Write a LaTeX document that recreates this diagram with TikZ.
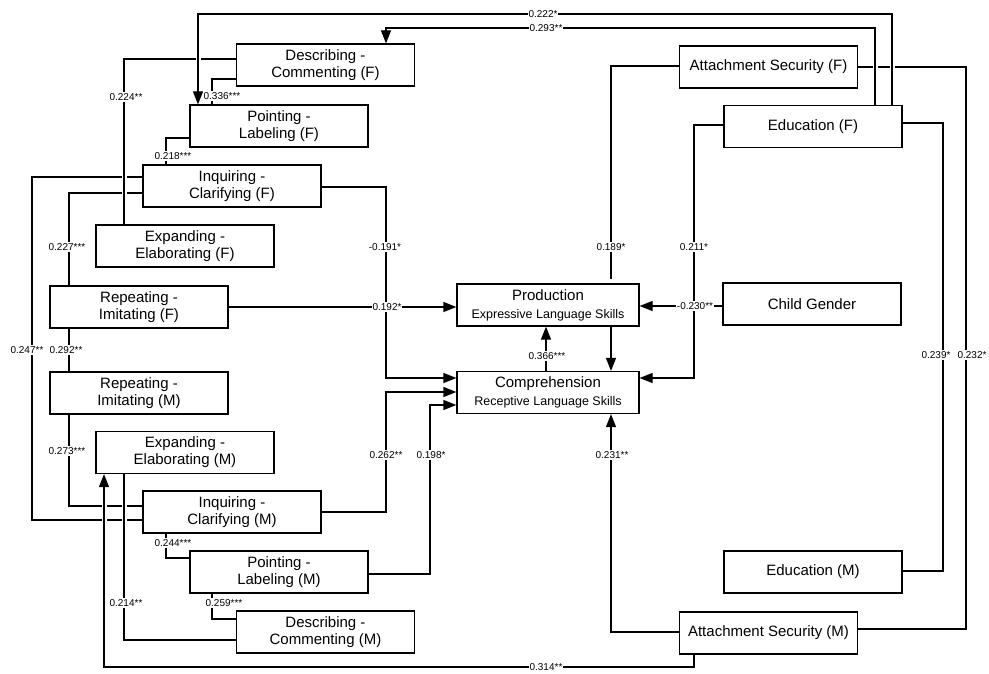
\documentclass[tikz,border=0pt]{standalone}
\usepackage{fontspec}
\setmainfont{Liberation Sans}
\usetikzlibrary{arrows.meta,calc}
\begin{document}
\begin{tikzpicture}[x=1pt,y=-1pt,
  box/.style={draw, line width=1.2pt, minimum width=178pt, minimum height=42pt, inner sep=0pt, align=center, font=\fontsize{15}{17}\selectfont},
  cbox/.style={box, minimum width=182pt},
  conn/.style={line width=1.2pt},
  arr/.style={conn, -{Triangle[length=13pt,width=10pt]}},
  gapped/.style={preaction={draw=white, line width=5pt, arrows=-, shorten <=3pt, shorten >=3pt}},
  lbl/.style={fill=white, inner sep=1pt, font=\fontsize{10}{10}\selectfont}]
\useasboundingbox (0,0) rectangle (989,674);

% boxes
\node[box] (dcF) at (325.5,65) {Describing -\\Commenting (F)};
\node[box] (plF) at (279,126) {Pointing -\\Labeling (F)};
\node[box] (icF) at (232,186) {Inquiring -\\Clarifying (F)};
\node[box] (eeF) at (185,246) {Expanding -\\Elaborating (F)};
\node[box] (riF) at (139,307) {Repeating -\\Imitating (F)};
\node[box] (riM) at (139,393) {Repeating -\\Imitating (M)};
\node[box] (eeM) at (185,452.5) {Expanding -\\Elaborating (M)};
\node[box] (icM) at (232,512) {Inquiring -\\Clarifying (M)};
\node[box] (plM) at (279,572) {Pointing -\\Labeling (M)};
\node[box] (dcM) at (325.5,632) {Describing -\\Commenting (M)};
\node[box] (asF) at (768.5,67) {Attachment Security (F)};
\node[box] (edF) at (813,126.5) {Education (F)};
\node[box] (cg) at (812,304) {Child Gender};
\node[box] (edM) at (813,572) {Education (M)};
\node[box] (asM) at (768.5,633) {Attachment Security (M)};
\node[cbox] (prod) at (548,305) {Production\\[1pt]{\fontsize{12.5}{14}\selectfont Expressive Language Skills}};
\node[cbox] (comp) at (548,392.5) {Comprehension\\[1pt]{\fontsize{12.5}{14}\selectfont Receptive Language Skills}};

% left-side correlations
\draw[conn] (icF.west |- 0,177) -- (32,177) -- (32,520) -- (icM.west |- 0,520);
\draw[conn] (icF.west |- 0,193) -- (69,193) -- (riF.north -| 69,0);
\draw[conn] (riF.south -| 69,0) -- (riM.north -| 69,0);
\draw[conn] (riM.south -| 69,0) -- (69,506) -- (icM.west |- 0,506);
\draw[conn] (plF.west |- 0,138) -- (166,138) -- (icF.north -| 166,0);
\draw[conn] (dcF.west |- 0,79) -- (212,79) -- (plF.north -| 212,0);
\draw[conn] (icM.south -| 166,0) -- (166,558) -- (plM.west |- 0,558);
\draw[conn] (plM.south -| 212,0) -- (212,619) -- (dcM.west |- 0,619);
\draw[conn,gapped] (dcF.west |- 0,59) -- (124,59) -- (eeF.north -| 124,0);
\draw[conn,gapped] (eeM.south -| 124,0) -- (124,640) -- (dcM.west |- 0,640);

% right-side correlations
\draw[conn] (asF.east) -- (966,67) -- (966,629) -- (asM.east |- 0,629);
\draw[conn] (edF.east |- 0,123) -- (943,123) -- (943,571) -- (edM.east |- 0,571);

% long paths with bridges
\draw[arr,gapped] (asM.south -| 694,0) -- (694,667) -- (104,667) -- (eeM.south -| 104,0);
\draw[arr,gapped] (edF.north -| 892,0) -- (892,14) -- (198,14) -- (plF.north -| 198,0);
\draw[arr,gapped] (edF.north -| 875,0) -- (875,28) -- (386,28) -- (dcF.north -| 386,0);

% paths to outcomes
\draw[conn] (asF.west |- 0,66) -- (611,66) -- ($(prod.north -| 611,0)+(0,-4)$);
\draw[arr] (prod.south -| 611,0) -- (comp.north -| 611,0);
\draw[arr] (comp.north -| 546,0) -- (prod.south -| 546,0);
\draw[arr] (edF.west |- 0,125) -- (694,125) -- (694,378) -- (comp.east |- 0,378);
\draw[arr] (cg.west |- 0,306) -- (prod.east |- 0,306);
\draw[arr] (asM.west |- 0,632) -- (611,632) -- (comp.south -| 611,0);
\draw[arr] (icF.east |- 0,187) -- (386,187) -- (386,378) -- (comp.west |- 0,378);
\draw[arr] (riF.east |- 0,307) -- (prod.west |- 0,307);
\draw[arr] (icM.east |- 0,512) -- (386,512) -- (386,392) -- (comp.west |- 0,392);
\draw[arr] (plM.east |- 0,574) -- (430,574) -- (430,405) -- (comp.west |- 0,405);

% labels
\node[lbl] (l1) at (543,14) {0.222*};
\node[lbl] (l2) at (546,28) {0.293**};
\node[lbl] (l3) at (222,96) {0.336***};
\node[lbl] (l4) at (126,97) {0.224**};
\node[lbl] (l5) at (173,156) {0.218***};
\node[lbl] (l6) at (67,247) {0.227***};
\node[lbl] (l7) at (385,247) {-0.191*};
\node[lbl] (l8) at (611,247) {0.189*};
\node[lbl] (l9) at (694,247) {0.211*};
\node[lbl] (l10) at (387,307) {0.192*};
\node[lbl] (l11) at (695,306) {-0.230**};
\node[lbl] (l12) at (27,350) {0.247**};
\node[lbl] (l13) at (66,350) {0.292**};
\node[lbl] (l14) at (547,356) {0.366***};
\node[lbl] (l15) at (936,355) {0.239*};
\node[lbl] (l16) at (972,355) {0.232*};
\node[lbl] (l17) at (67,451) {0.273***};
\node[lbl] (l18) at (386,455) {0.262**};
\node[lbl] (l19) at (431,455) {0.198*};
\node[lbl] (l20) at (612,455) {0.231**};
\node[lbl] (l21) at (173,543) {0.244***};
\node[lbl] (l22) at (224,603) {0.259***};
\node[lbl] (l23) at (126,603) {0.214**};
\node[lbl] (l24) at (546,667) {0.314**};
\end{tikzpicture}
\end{document}
